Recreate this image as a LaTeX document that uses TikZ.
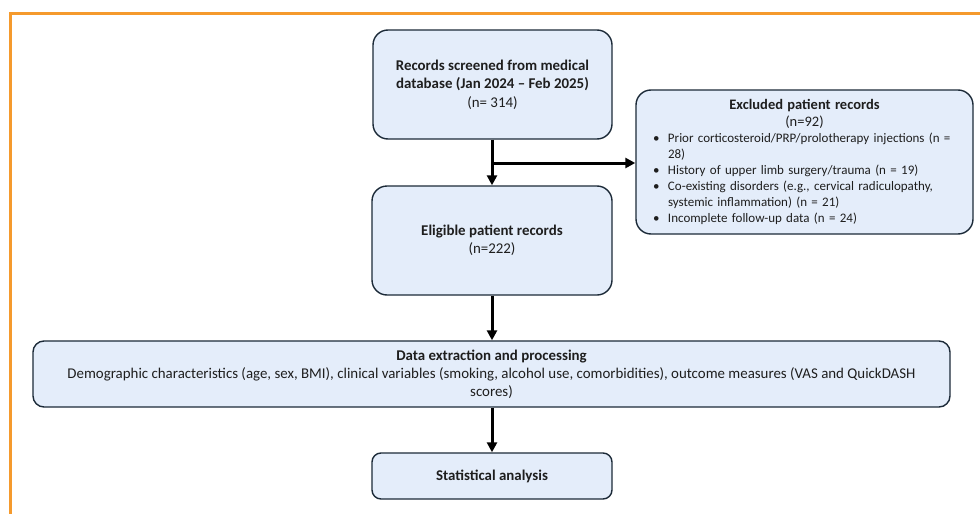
\documentclass[tikz,border=0pt]{standalone}
\usepackage{fontspec}
\setmainfont{Carlito}
\usetikzlibrary{arrows.meta}
\definecolor{frameorange}{RGB}{245,154,45}
\definecolor{boxfill}{RGB}{228,237,250}
\definecolor{boxline}{RGB}{28,42,56}
\definecolor{txt}{RGB}{30,30,30}
\newcommand{\bul}[1]{\par\noindent\hspace*{17pt}\makebox[15pt][l]{•}#1}
\newcommand{\cont}[1]{\par\noindent\hspace*{32pt}#1}
\tikzset{
  box/.style={draw=boxline, fill=boxfill, line width=1.4pt, rounded corners=15pt,
    align=center, inner sep=0pt, text=txt, font=\fontsize{14.9}{18.5}\selectfont},
  flow/.style={line width=3pt, -{Triangle[length=10pt,width=10pt]}},
}
\begin{document}
\begin{tikzpicture}[x=1pt,y=-1pt]
\useasboundingbox (0,0) rectangle (980,514);
\draw[frameorange, line width=2.6pt] (10.5,514) -- (10.5,13.5) -- (980,13.5);

\node[box, minimum width=239pt, minimum height=109pt] (b1) at (492.5,84.5)
  {\textbf{Records screened from medical}\\\textbf{database (Jan 2024 – Feb 2025)}\\(n= 314)};
\node[box, minimum width=240pt, minimum height=109pt] (b2) at (492,240.5)
  {\textbf{Eligible patient records}\\(n=222)};
\node[box, minimum width=337pt, minimum height=144pt, text width=337pt, align=left,
      font=\fontsize{13}{16}\selectfont] (ex) at (804.5,162)
  {{\centering\fontsize{14.5}{16.5}\selectfont\textbf{Excluded patient records}\par(n=92)\par}
   \raggedright
   \bul{Prior corticosteroid/PRP/prolotherapy injections (n =}
   \cont{28)}
   \bul{History of upper limb surgery/trauma (n = 19)}
   \bul{Co-existing disorders (e.g., cervical radiculopathy,}
   \cont{systemic inflammation) (n = 21)}
   \bul{Incomplete follow-up data (n = 24)}\par};
\node[box, rounded corners=11pt, minimum width=917pt, minimum height=66pt, font=\fontsize{14.9}{18}\selectfont] (dx) at (491.5,374)
  {\textbf{Data extraction and processing}\\Demographic characteristics (age, sex, BMI), clinical variables (smoking, alcohol use, comorbidities), outcome measures (VAS and QuickDASH\\scores)};
\node[box, rounded corners=9pt, minimum width=240pt, minimum height=46pt] (st) at (492,476)
  {\textbf{Statistical analysis}};

\coordinate (br) at (492,163);
\draw[flow] (b1.south -| br) -- (b2.north -| br);
\draw[flow] (br) -- (ex.west |- br);
\draw[flow] (b2.south -| br) -- (dx.north -| br);
\draw[flow] (dx.south -| br) -- (st.north -| br);
\end{tikzpicture}
\end{document}
